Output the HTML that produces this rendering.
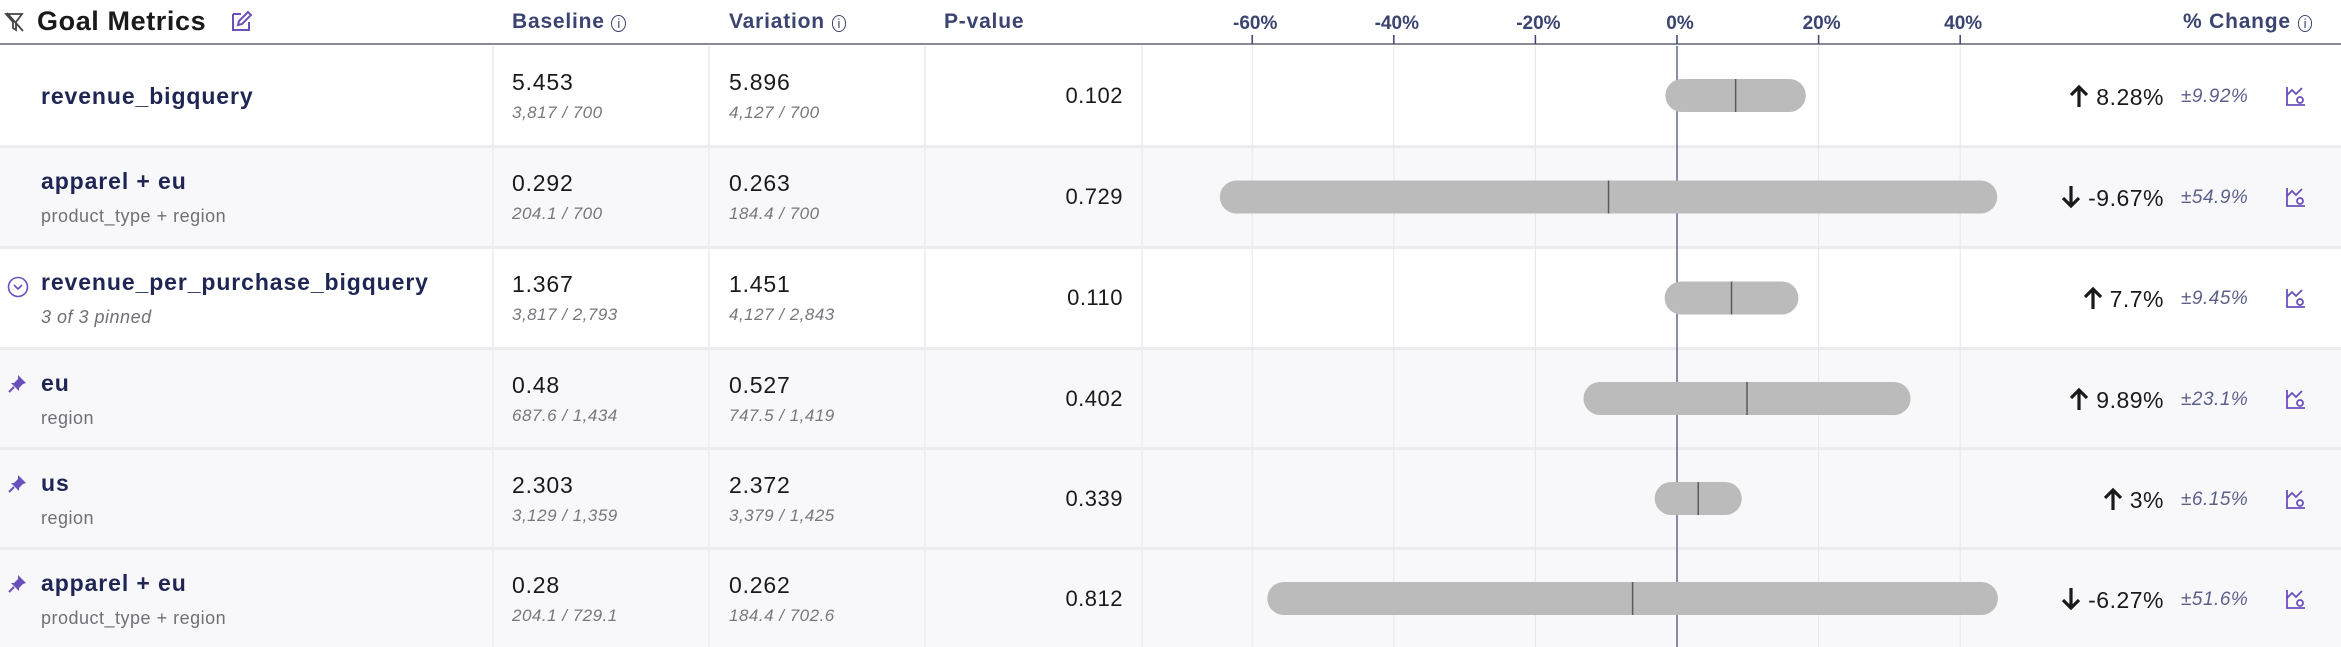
<!DOCTYPE html>
<html><head><meta charset="utf-8"><style>
body{margin:0;width:2341px;height:647px;overflow:hidden;background:#fff;font-family:"Liberation Sans",sans-serif;position:relative}
.a{position:absolute;white-space:nowrap;line-height:1}
.hd{font-weight:bold;color:#3b4470;font-size:21px;letter-spacing:0.8px}
.nm{font-weight:bold;color:#1f2654;font-size:23px;left:41px;letter-spacing:0.9px}
.sb{color:#6f7077;font-size:18px;left:41px;letter-spacing:0.5px}
.v{color:#1a1a1a;font-size:23px;letter-spacing:0.8px}
.vs{color:#77777c;font-size:17px;font-style:italic;letter-spacing:0.5px}
.pv{color:#1a1a1a;font-size:22px;text-align:right;width:200px;left:923px;letter-spacing:0.5px}
.ch{color:#1a1a1a;font-size:23px;text-align:right;width:300px;left:1864px;letter-spacing:0.5px}
.ci{color:#5b5f8a;font-size:19px;font-style:italic;left:2181px;letter-spacing:0.5px}
</style></head><body>
<svg id="chart" width="2341" height="647" style="position:absolute;left:0;top:0"></svg>

<svg class="a" style="left:4px;top:11px" width="22" height="22" viewBox="0 0 22 22"><path d="M2 3h16l-6 8v8l-3-2v-6z" stroke="#444" stroke-width="1.8" fill="none"/><path d="M3 2l16 18" stroke="#444" stroke-width="1.8"/></svg>
<div class="a" style="left:37px;top:8px;font-size:27px;font-weight:bold;color:#1a1a1a;letter-spacing:0.6px">Goal Metrics</div>
<svg class="a" style="left:229px;top:10px" width="24" height="24" viewBox="0 0 24 24"><path d="M4 4h8M4 4v16h16v-8" stroke="#6b4fbb" stroke-width="2" fill="none"/><path d="M9 15l1-4 9-9 3 3-9 9z" stroke="#6b4fbb" stroke-width="2" fill="none"/></svg>
<div class="a hd" style="left:512px;top:11px">Baseline <span style="font-weight:normal;border:1.5px solid #3b4470;border-radius:50%;font-size:13px;padding:0 5px;letter-spacing:0">i</span></div>
<div class="a hd" style="left:729px;top:11px">Variation <span style="font-weight:normal;border:1.5px solid #3b4470;border-radius:50%;font-size:13px;padding:0 5px;letter-spacing:0">i</span></div>
<div class="a hd" style="left:944px;top:11px">P-value</div>
<div class="a hd" style="left:2183px;top:11px">% Change <span style="font-weight:normal;border:1.5px solid #3b4470;border-radius:50%;font-size:13px;padding:0 5px;letter-spacing:0">i</span></div>

<div id="rows"></div>

<script>
const categories=["revenue_bigquery","apparel + eu","revenue_per_purchase_bigquery","eu","us","apparel + eu"];
const subLabels=["","product_type + region","3 of 3 pinned","region","region","product_type + region"];
const baselineValues=["5.453","0.292","1.367","0.48","2.303","0.28"];
const baselineSubs=["3,817 / 700","204.1 / 700","3,817 / 2,793","687.6 / 1,434","3,129 / 1,359","204.1 / 729.1"];
const variationValues=["5.896","0.263","1.451","0.527","2.372","0.262"];
const variationSubs=["4,127 / 700","184.4 / 700","4,127 / 2,843","747.5 / 1,419","3,379 / 1,425","184.4 / 702.6"];
const pValues=["0.102","0.729","0.110","0.402","0.339","0.812"];
const changes=[8.28,-9.67,7.7,9.89,3,-6.27];
const ciHalf=[9.92,54.9,9.45,23.1,6.15,51.6];
const ticks=[-60,-40,-20,0,20,40];
const tickLabels=["-60%","-40%","-20%","0%","20%","40%"];

const NS="http://www.w3.org/2000/svg";
const svg=document.getElementById('chart');
const x=v=>1677+v*7.08;
const rowTop=[46,148,249,350,450,550], rowBot=[145,246,347,447,547,647];
const cy=i=>(rowTop[i]+rowBot[i])/2;
function mk(t,a){const e=document.createElementNS(NS,t);for(const k in a)e.setAttribute(k,a[k]);svg.appendChild(e);return e;}

categories.forEach((c,i)=>{
  const r=mk('rect',{x:0,y:rowTop[i],width:2341,height:rowBot[i]-rowTop[i],fill:(i==0||i==2)?'#ffffff':'#f8f8fa'});
  
  
  if(i<5){const s=mk('rect',{x:0,y:rowBot[i],width:2341,height:3,fill:'#ececee'});
  
  }
});
[493,709,925,1142].forEach(cx=>{const l=mk('line',{x1:cx,x2:cx,y1:46,y2:647,stroke:'#ececee','stroke-width':1.5});

});
const hl=mk('rect',{x:0,y:43,width:2341,height:2,fill:'#8a8a96'});


ticks.forEach((t,i)=>{
  const g=mk('line',{x1:x(t),x2:x(t),y1:46,y2:647,stroke:t==0?'#3b4470':'#e6e6ea','stroke-width':t==0?1.2:1});
  
  
  const tk=mk('line',{x1:x(t),x2:x(t),y1:35,y2:44,stroke:'#3b4470','stroke-width':1.5});
  
  
  const tl=mk('text',{x:x(t)+3,y:29,'text-anchor':'middle','font-size':19,'font-weight':'bold',fill:'#3b4470','font-family':'Liberation Sans, sans-serif'});
  tl.textContent=tickLabels[i];
  
  
});
changes.forEach((c,i)=>{
  const lo=x(c-ciHalf[i]),hi=x(c+ciHalf[i]);
  const b=mk('rect',{x:lo,y:cy(i)-16.5,width:hi-lo,height:33,rx:16.5,fill:'#bbbbbb'});
  
  
  const m=mk('line',{x1:x(c),x2:x(c),y1:cy(i)-16.5,y2:cy(i)+16.5,stroke:'#5a5a5a','stroke-width':1.5});
  
  
});

const rows=document.getElementById('rows');
function div(cls,style,txt,name,inter){const d=document.createElement('div');d.className='a '+cls;d.style.cssText=style;d.textContent=txt;


rows.appendChild(d);return d;}
const UP='<svg width="22" height="24" viewBox="0 0 22 24" style="vertical-align:-3px;margin-right:6px"><path d="M11 23V4M3 11l8-8 8 8" stroke="#1a1a1a" stroke-width="3.2" fill="none"/></svg>';
const DN='<svg width="22" height="24" viewBox="0 0 22 24" style="vertical-align:-3px;margin-right:6px"><path d="M11 1v19M3 13l8 8 8-8" stroke="#1a1a1a" stroke-width="3.2" fill="none"/></svg>';
categories.forEach((c,i)=>{
  const y=cy(i);
  const two=subLabels[i]!=="";
  div('nm','top:'+((two?y-15:y+1)-12)+'px',c,'metric-name','true');
  if(two) div('sb','top:'+(y+19-9)+'px'+(i==2?';font-style:italic':''),subLabels[i],'metric-subtitle','false');
  div('v','left:512px;top:'+(y-14-11)+'px',baselineValues[i],'baseline-value','false');
  div('vs','left:512px;top:'+(y+16-8)+'px',baselineSubs[i],'baseline-counts','false');
  div('v','left:729px;top:'+(y-14-11)+'px',variationValues[i],'variation-value','false');
  div('vs','left:729px;top:'+(y+16-8)+'px',variationSubs[i],'variation-counts','false');
  div('pv','top:'+(y-11)+'px',pValues[i],'p-value','false');
  const ch=div('ch','top:'+(y-12)+'px','','percent-change','false');
  ch.innerHTML=(changes[i]>=0?UP:DN)+changes[i]+'%';
  div('ci','top:'+(y-9)+'px','±'+ciHalf[i]+'%','confidence-interval','false');
  const ic=div('','left:2285px;top:'+(y-11)+'px','','view-chart-icon','true');
  ic.innerHTML='<svg width="22" height="22" viewBox="0 0 22 22"><path d="M2 2v18h18M2 10l5-5 4 4 6-6" stroke="#6b4fbb" stroke-width="1.8" fill="none"/><circle cx="15" cy="15" r="3" stroke="#6b4fbb" stroke-width="1.8" fill="none"/></svg>';
  if(i>=3){const p=div('','left:6px;top:'+(y-26)+'px','','pin-icon','true');
    p.innerHTML='<svg width="22" height="22" viewBox="0 0 22 22"><path d="M12 2l8 8-3 1-4 4 0 3-8-8 3 0 4-4z" fill="#6b4fbb"/><path d="M8 14l-5 5" stroke="#6b4fbb" stroke-width="2"/></svg>';}
  if(i==2){const p=div('','left:7px;top:'+(y-22)+'px','','expand-toggle','true');
    p.innerHTML='<svg width="22" height="22" viewBox="0 0 22 22"><circle cx="11" cy="11" r="9.5" stroke="#6b4fbb" stroke-width="1.6" fill="none"/><path d="M7 9l4 4 4-4" stroke="#6b4fbb" stroke-width="1.6" fill="none"/></svg>';}
});
</script>
</body></html>
